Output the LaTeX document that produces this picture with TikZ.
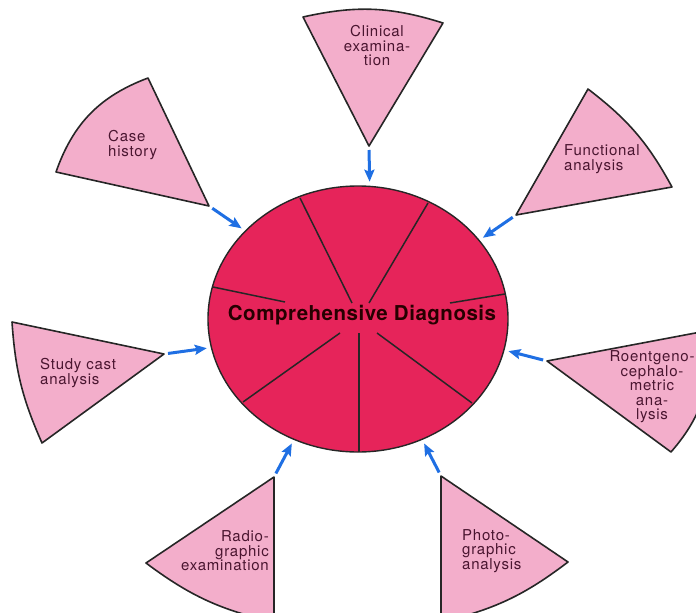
\documentclass[tikz,border=0pt]{standalone}
\usepackage{fontspec}
\setmainfont{TeX Gyre Heros}
\usetikzlibrary{positioning,shapes,arrows,arrows.meta}
\definecolor{diagred}{HTML}{E6245A}
\definecolor{sectorpink}{HTML}{F3AECB}
\definecolor{arrowblue}{HTML}{1F6FE3}
\definecolor{labelink}{HTML}{4A1530}

\begin{document}
\begin{tikzpicture}[x=1pt,y=-1pt,
                    sector/.style={draw=black!85,fill=sectorpink,line width=1.6pt,line join=round},
                    divider/.style={draw=black!85,line width=1.5pt},
                    feed/.style={draw=arrowblue,line width=3pt,-{Stealth[length=12pt,width=10pt,inset=2pt]},shorten <=4pt,shorten >=4pt},
                    label/.style={inner sep=0pt,text=labelink,font=\fontsize{15}{14.5}\selectfont\addfontfeatures{LetterSpace=5}},
                    main node/.style={ellipse,draw=black!85,fill=diagred,line width=1.4pt,minimum width=300pt,minimum height=266pt,inner sep=0pt}
                   ]
  \useasboundingbox (0,0) rectangle (696,613);
  \clip (0,0) rectangle (696,613);

  \coordinate (case) at (209,206);
  \coordinate (clin) at (369,146);
  \coordinate (func) at (516,215);
  \coordinate (cast) at (164,354);
  \coordinate (roent) at (547,361);
  \coordinate (radio) at (274,477);
  \coordinate (photo) at (441,476);

  \draw[sector] (case) -- (148,78) to[bend right=25] (56,172) -- cycle;
  \draw[sector] (clin) -- (443,23) to[bend right=15] (303,17) -- cycle;
  \draw[sector] (func) -- (672,187) to[bend right=12] (588,89) -- cycle;
  \draw[sector] (cast) -- (12,322) to[bend right=10] (42,443) -- cycle;
  \draw[sector] (roent) -- (671,452) to[bend right=25] (706,331) -- cycle;
  \draw[sector] (radio) -- (146,563) to[bend right=12] (274,622) -- cycle;
  \draw[sector] (photo) -- (441,622) to[bend right=12] (568,562) -- cycle;

  \node[label,anchor=west,align=left] (casetext) at (108,145) {Case\\history};
  \node[label,align=center] (clintext) at (377,46) {Clinical\\examina-\\tion};
  \node[label,anchor=west,align=left] (functext) at (564,159) {Functional\\analysis};
  \node[label,anchor=west,align=left] (casttext) at (40,373) {Study cast\\analysis};
  \node[label,align=center] (roenttext) at (652,387) {Roentgeno-\\cephalo-\\metric\\ana-\\lysis};
  \node[label,anchor=east,align=right] (radiotext) at (269,551) {Radio-\\graphic\\examination};
  \node[label,anchor=west,align=left] (phototext) at (462,551) {Photo-\\graphic\\analysis};

  \node[main node] (diag) at (358,319) {};
  \node[inner sep=0pt,text=black!85!red,font=\fontsize{20.5}{22}\selectfont\bfseries\addfontfeatures{LetterSpace=2.5}] (title) at (362,315) {Comprehensive Diagnosis};

  \foreach \xa/\ya/\xb/\yb in {300/198/352/303, 428/203/369/303, 213/287/285/302, 505/294/450/303,
                               243/402/340/333, 359/452/359/333, 472/403/377/333}
    \draw[divider] (\xa,\ya) -- (\xb,\yb);

  \draw[feed] (case) -- (diag.142);
  \draw[feed] (clin) -- (diag.85);
  \draw[feed] (func) -- (diag.33);
  \draw[feed] (cast) -- (diag.191);
  \draw[feed] (roent) -- (diag.348);
  \draw[feed] (radio) -- (diag.242);
  \draw[feed] (photo) -- (diag.298);
\end{tikzpicture}
\end{document}
